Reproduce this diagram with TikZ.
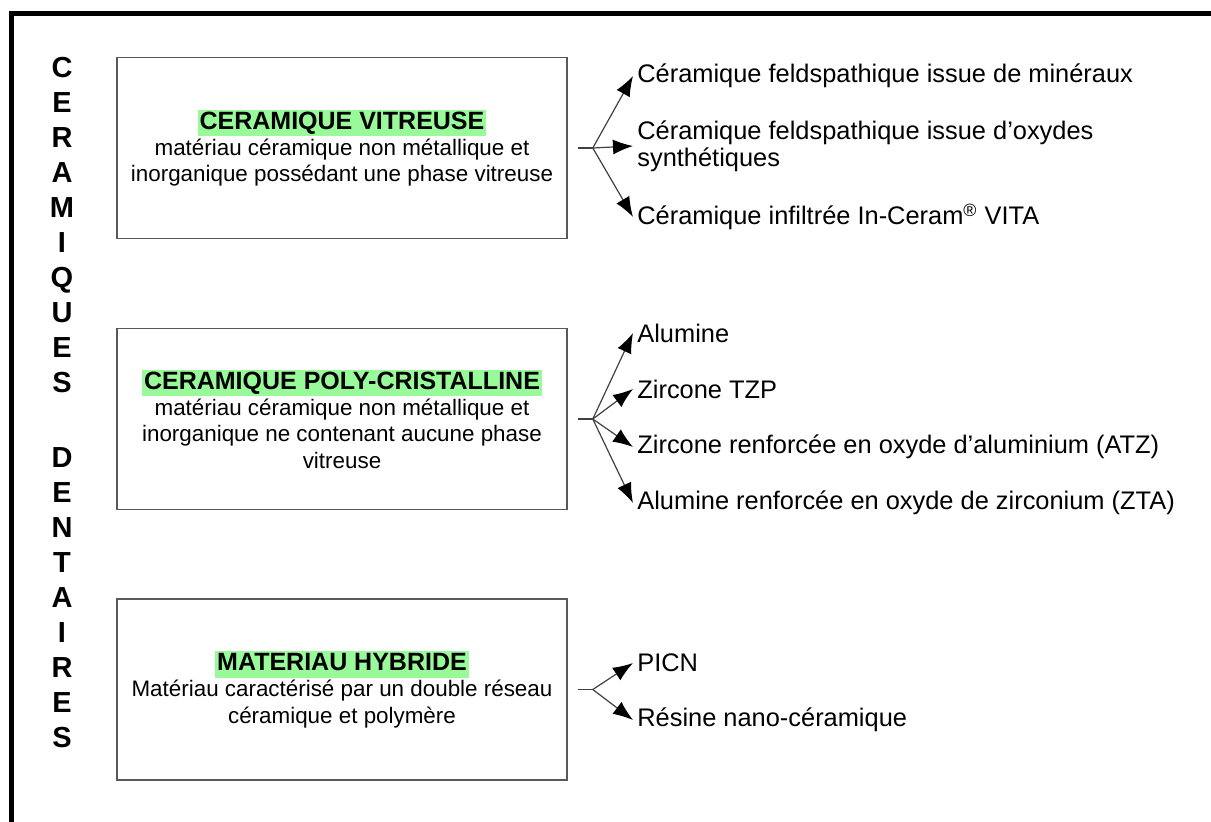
\documentclass[tikz,border=0pt]{standalone}
\usepackage{fontspec}
\setmainfont{Liberation Sans}
\usepackage{tikz}
\usetikzlibrary{positioning,arrows.meta}
\definecolor{hlgreen}{RGB}{152,250,152}
\newcommand{\hltitle}[1]{{\fontsize{12.5}{14}\selectfont\setlength{\fboxsep}{1pt}\colorbox{hlgreen}{\bfseries\rule[-0.21em]{0pt}{0.91em}#1}}}

\begin{document}
\begin{tikzpicture}[x=0.5pt,y=-0.5pt,>={Latex[length=10pt,width=7.5pt,black]}]
\tikzset{
catbox/.style={
  draw=black!65,
  line width=0.8pt,
  minimum width=225pt,
  minimum height=90.5pt,
  align=center,
  font=\fontsize{11.2}{13.2}\selectfont
  },
leaf/.style={
  anchor=west,
  inner sep=0pt,
  align=left,
  font=\fontsize{12.7}{13.6}\selectfont
  },
fork/.style={draw=black!75, line width=0.6pt}
}
\clip (0,0) rectangle (1211,821);
\draw[line width=2.5pt] (11,13) rectangle (1240,850);

\node[font=\bfseries\fontsize{14.5}{17.5}\selectfont, align=center] (vert) at (62,402.5)
  {C\\E\\R\\A\\M\\I\\Q\\U\\E\\S\\[20pt]D\\E\\N\\T\\A\\I\\R\\E\\S};

% categories
\node[catbox] (vitr) at (342,148)
  {\hltitle{CERAMIQUE VITREUSE}\\
   matériau céramique non métallique et\\
   inorganique possédant une phase vitreuse};
\node[catbox] (poly) at (342,419)
  {\hltitle{CERAMIQUE POLY-CRISTALLINE}\\
   matériau céramique non métallique et\\
   inorganique ne contenant aucune phase\\
   vitreuse};
\node[catbox] (hybr) at (342,689.5)
  {\hltitle{MATERIAU HYBRIDE}\\
   Matériau caractérisé par un double réseau\\
   céramique et polymère};

% sub-types
\node[leaf] (vitr1) at (637,76)  {Céramique feldspathique issue de minéraux};
\node[leaf] (vitr2) at (637,146) {Céramique feldspathique issue d’oxydes\\synthétiques};
\node[leaf] (vitr3) at (637,217) {Céramique infiltrée In-Ceram\textsuperscript{®} VITA};
\node[leaf] (poly1) at (637,333) {Alumine};
\node[leaf] (poly2) at (637,389) {Zircone TZP};
\node[leaf] (poly3) at (637,447) {Zircone renforcée en oxyde d’aluminium (ATZ)};
\node[leaf] (poly4) at (637,503) {Alumine renforcée en oxyde de zirconium (ZTA)};
\node[leaf] (hybr1) at (637,663) {PICN};
\node[leaf] (hybr2) at (637,720) {Résine nano-céramique};

\coordinate[right=12.5pt of vitr.east] (vitrfork);
\coordinate[right=12.5pt of poly.east] (polyfork);
\coordinate[right=12.5pt of hybr.east] (hybrfork);

\draw[fork] ([xshift=5pt]vitr.east) -- (vitrfork);
\draw[fork] ([xshift=5pt]poly.east) -- (polyfork);
\draw[fork] ([xshift=5pt]hybr.east) -- (hybrfork);

\foreach \t in {vitr1,vitr2,vitr3}
  \draw[fork,->] (vitrfork) -- ([xshift=-2pt]\t.west);
\foreach \t in {poly1,poly2,poly3,poly4}
  \draw[fork,->] (polyfork) -- ([xshift=-2pt]\t.west);
\foreach \t in {hybr1,hybr2}
  \draw[fork,->] (hybrfork) -- ([xshift=-2pt]\t.west);

\end{tikzpicture}
\end{document}
